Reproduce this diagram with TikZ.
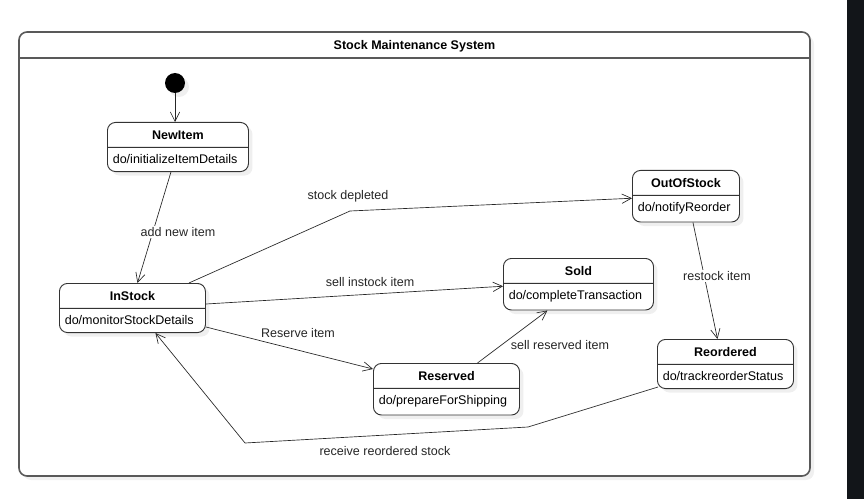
\documentclass[tikz,border=0pt]{standalone}
\usepackage{fontspec}
\setmainfont{Liberation Sans}
\usetikzlibrary{arrows.meta,shapes.multipart,shadows,calc}
\definecolor{strip}{HTML}{121519}

\begin{document}
\begin{tikzpicture}[x=0.75pt, y=-0.75pt,
    every node/.style={font=\fontsize{9.4}{11}\selectfont},
    shade/.style={drop shadow={shadow xshift=3pt, shadow yshift=-3pt, opacity=0.12}},
    state/.style={rectangle split, rectangle split parts=2, draw=black!80, line width=0.7pt, fill=white,
      rounded corners=6pt, anchor=north west, inner xsep=4pt, inner ysep=5.25pt,
      text height=7pt, text depth=0.5pt, rectangle split part align={center,left}, shade},
    trans/.style={draw=black!85, line width=0.5pt, -{Straight Barb[length=7pt,width=7pt]}},
    lbl/.style={text=black!85, fill=white, inner sep=1pt}]
  \def\px{0.75pt}
  \useasboundingbox (0,0) rectangle (864,499);
  \fill[strip] (847,0) rectangle (864,499);

  \draw[black!65, line width=1.2pt, fill=white, rounded corners=6pt, shade] (19,32) rectangle (810,476);
  \draw[black!65, line width=1.2pt] (19,58) -- (810,58);
  \node[font=\fontsize{9.4}{11}\selectfont\bfseries] (title) at (414.5,46) {Stock Maintenance System};

  \node[circle, fill=black, minimum size=15pt, inner sep=0pt, shade] (init) at (175,83) {};

  \node[state, minimum width=141*\px] (newitem) at (107,122) {\textbf{NewItem}\nodepart{two}do/initializeItemDetails};
  \node[state, minimum width=146*\px] (instock) at (59,283) {\textbf{InStock}\nodepart{two}do/monitorStockDetails};
  \node[state, minimum width=107*\px] (outofstock) at (632,170) {\textbf{OutOfStock}\nodepart{two}do/notifyReorder};
  \node[state, minimum width=150*\px] (sold) at (503,258) {\textbf{Sold}\nodepart{two}do/completeTransaction};
  \node[state, minimum width=136*\px] (reordered) at (657,339) {\textbf{Reordered}\nodepart{two}do/trackreorderStatus};
  \node[state, minimum width=146*\px] (reserved) at (373,363) {\textbf{Reserved}\nodepart{two}do/prepareForShipping};

  \draw[trans] (init) -- (init |- newitem.north);
  \draw[trans] ($(newitem.south)+(-7,0)$) -- ($(instock.north)+(5,0)$);
  \draw[trans] ($(instock.north east)+(-17,0)$) -- (350,211) -- ($(outofstock.west)+(0,2)$);
  \draw[trans] ($(instock.east)+(0,-4)$) -- ($(sold.west)+(0,2)$);
  \draw[trans] ($(instock.south east)+(0,-6)$) -- ($(reserved.north west)+(0,6)$);
  \draw[trans] ($(reserved.north)+(31,0)$) -- ($(sold.south)+(-31,0)$);
  \draw[trans] ($(outofstock.south)+(7,0)$) -- ($(reordered.north)+(-8,0)$);
  \draw[trans] ($(reordered.south west)+(1,-2)$) -- (528,427) -- (245,443) -- ($(instock.south)+(23,0)$);

  \node[lbl] (lnew) at (178,232) {add new item};
  \node[lbl] (ldepleted) at (348,196) {stock depleted};
  \node[lbl] (lsellin) at (370,282) {sell instock item};
  \node[lbl] (lreserve) at (298,333) {Reserve item};
  \node[lbl] (lsellres) at (560,345) {sell reserved item};
  \node[lbl] (lrestock) at (717,276) {restock item};
  \node[lbl] (lreceive) at (385,451) {receive reordered stock};
\end{tikzpicture}
\end{document}
